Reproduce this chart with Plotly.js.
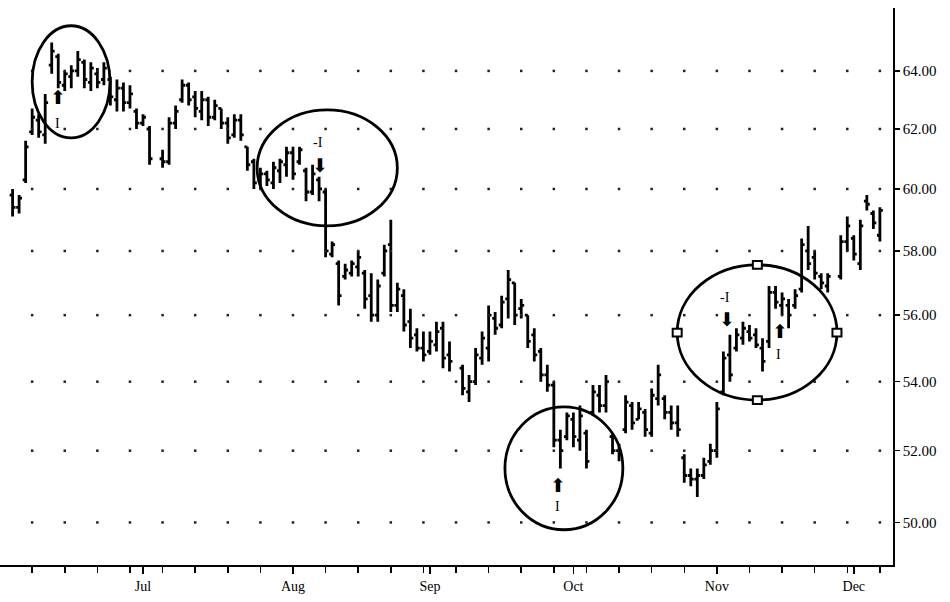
<!DOCTYPE html>
<html><head><meta charset="utf-8">
<script src="https://cdn.plot.ly/plotly-3.0.1.min.js"></script>
<style>html,body{margin:0;padding:0;background:#fff}#chart{width:950px;height:602px}</style>
</head><body><div id="chart"></div>
<script>
// ---- data ----
const firstDay = '1998-06-03';
const lastDay = '1998-12-07';
const holidays = ['1998-07-03', '1998-09-07', '1998-11-26'];

const open = [
 59.8,59.4,60.3,61.9,62.3,61.8,64.2,64.5,63.5,63.8,64.0,64.3,63.6,63.9,63.7,63.7,63.0,63.4,62.9,62.6,
 62.2,62.0,61.0,60.9,62.2,63.0,63.5,63.1,62.6,63.0,62.4,62.7,62.2,61.8,62.3,61.4,60.9,60.3,60.5,60.2,60.6,60.8,
 61.2,60.9,60.6,59.9,60.3,59.9,57.9,57.6,57.2,57.3,57.5,57.3,56.6,56.0,57.3,58.2,56.3,56.6,55.8,55.4,55.0,
 54.9,55.1,55.6,54.8,54.4,53.7,54.0,54.7,55.0,55.9,55.7,56.5,57.0,56.2,56.0,55.4,54.9,54.2,53.9,52.3,52.4,
 52.9,52.3,52.5,53.1,53.6,53.3,52.4,52.0,52.6,53.3,52.9,53.1,52.5,53.5,53.5,53.1,52.8,51.8,51.3,51.2,51.3,51.7,
 52.0,53.7,54.8,55.0,55.3,55.5,55.4,55.0,55.2,56.7,56.3,56.3,56.3,56.8,58.0,57.8,57.2,56.9,57.2,58.3,
 58.4,57.6,59.6,59.2,58.5
];
const high = [
 60.0,59.8,61.6,62.7,62.5,63.2,65.0,64.6,64.0,64.2,64.7,64.4,64.3,64.1,64.3,63.8,63.7,63.6,63.5,62.7,
 62.5,62.1,61.3,62.4,62.8,63.7,63.6,63.3,63.3,63.1,63.0,62.7,62.4,62.5,62.5,61.4,61.0,60.7,60.6,60.9,61.0,61.4,
 61.4,61.4,60.7,60.8,60.4,60.0,58.3,57.7,57.6,57.7,58.0,57.4,57.3,57.1,58.2,59.0,57.0,56.8,56.2,55.6,55.5,
 55.5,55.8,55.8,55.2,54.5,54.2,55.0,55.5,56.3,56.1,56.6,57.4,57.0,56.5,56.0,55.6,55.0,54.5,54.0,52.6,53.1,
 53.1,53.3,52.6,53.9,53.9,54.2,52.5,52.2,53.6,53.4,53.4,53.2,53.8,54.5,53.6,53.3,53.3,51.9,51.5,51.5,51.8,52.2,
 53.4,54.9,55.4,55.6,55.8,55.7,55.6,55.3,56.9,56.9,56.7,56.5,56.8,58.4,58.8,58.0,57.3,57.3,58.5,59.1,
 58.5,59.0,59.8,59.3,59.4
];
const low = [
 59.1,59.2,60.2,61.8,61.7,61.5,63.9,63.4,63.3,63.4,63.8,63.4,63.3,63.4,63.5,62.8,62.6,62.6,62.7,62.0,
 62.1,60.8,60.7,60.8,62.0,62.9,62.8,62.4,62.3,62.1,62.3,62.0,61.5,61.7,61.6,60.6,60.0,60.0,60.1,60.0,60.2,60.4,
 60.3,60.8,59.6,59.8,59.6,57.8,57.8,56.3,57.1,57.2,57.2,56.2,55.8,55.8,57.2,56.1,56.1,55.5,55.0,54.9,54.6,
 54.8,54.9,54.4,54.3,53.6,53.4,53.9,54.5,54.6,55.4,55.6,55.9,55.7,55.9,55.0,54.6,54.0,53.7,52.1,51.5,52.3,
 52.1,52.0,51.5,53.0,53.1,53.1,51.9,51.7,52.5,52.6,52.9,52.4,52.4,53.3,52.9,52.6,52.4,51.1,51.0,50.7,51.2,51.6,
 51.8,53.6,54.0,54.9,55.1,55.2,55.0,54.3,55.0,56.2,56.0,55.6,56.2,56.7,57.4,57.1,56.8,56.7,57.1,58.0,
 57.7,57.4,59.3,58.7,58.3
];
const close = [
 59.4,59.7,61.4,62.4,61.9,62.9,64.7,63.6,63.9,64.0,64.4,63.7,64.1,63.6,64.1,63.1,63.4,62.9,63.2,62.2,
 62.4,61.0,60.9,62.2,62.6,63.5,63.0,62.7,63.0,62.4,62.8,62.2,61.7,62.3,61.8,60.8,60.2,60.5,60.3,60.7,60.9,61.2,
 60.5,61.3,59.9,60.5,60.0,58.0,58.2,56.6,57.4,57.6,57.8,56.5,56.0,56.9,58.0,56.3,56.8,55.7,55.3,55.0,54.8,
 55.2,55.5,54.7,54.6,53.8,54.0,54.8,55.3,56.0,55.6,56.4,57.1,56.0,56.3,55.2,54.8,54.2,53.9,52.3,52.0,53.0,
 52.4,53.0,51.7,53.7,53.3,54.0,52.0,51.9,53.4,52.8,53.2,52.6,53.6,54.2,53.1,52.8,52.6,51.3,51.2,51.3,51.6,52.0,
 53.2,54.7,54.2,55.4,55.6,55.3,55.1,54.6,56.7,56.4,56.5,56.0,56.6,58.2,57.6,57.3,57.0,57.2,58.3,58.8,
 57.9,58.8,59.5,58.9,59.3
];

const priceTicks = [50, 52, 54, 56, 58, 60, 62, 64];
const monthTicks = ['1998-07-01', '1998-08-03', '1998-09-01', '1998-10-01', '1998-11-02', '1998-12-01'];
const monthLabels = ['Jul', 'Aug', 'Sep', 'Oct', 'Nov', 'Dec'];
const xRange = ['1998-06-01 01:40', '1998-12-09 00:15'];
const yRange = [48.85, 66.24];

// circled pattern areas (date span, price span)
const circleX0 = ['1998-06-08 00:00', '1998-07-24 12:00', '1998-09-16 12:00', '1998-10-22 22:00'];
const circleX1 = ['1998-06-23 22:30', '1998-08-25 00:00', '1998-10-12 14:00', '1998-11-26 10:00'];
const circleLow = [61.7, 58.8, 49.8, 53.46];
const circleHigh = [65.6, 62.65, 53.26, 57.56];

// selection handles on the last circle
const handleX = ['1998-10-22 22:00', '1998-11-26 10:00', '1998-11-10 05:00', '1998-11-10 05:00'];
const handleY = [55.47, 55.47, 57.56, 53.46];

// signal markers
const arrowX = ['1998-06-12 00:00', '1998-08-07 03:00', '1998-09-28 15:00', '1998-11-03 14:00', '1998-11-13 17:00'];
const arrowY = [63.1, 60.8, 51.03, 55.88, 55.52];
const arrowDir = ['up', 'down', 'up', 'down', 'up'];
const labelX = ['1998-06-11 20:00', '1998-08-06 20:00', '1998-09-28 15:00', '1998-11-03 07:00', '1998-11-13 10:00'];
const labelY = [62.2, 61.53, 50.45, 56.55, 54.81];
const labelText = ['I', '-I', 'I', '-I', 'I'];

// ---- build ----
function tradingDays(a, b, skip) {
  const out = [];
  const d = new Date(a + 'T00:00:00Z');
  const end = new Date(b + 'T00:00:00Z');
  while (d <= end) {
    const wd = d.getUTCDay();
    const s = d.toISOString().slice(0, 10);
    if (wd !== 0 && wd !== 6 && !skip.includes(s)) out.push(s);
    d.setUTCDate(d.getUTCDate() + 1);
  }
  return out;
}
function mondays(a, b) {
  const out = [];
  const d = new Date(a + 'T00:00:00Z');
  const end = new Date(b + 'T00:00:00Z');
  while (d <= end) {
    if (d.getUTCDay() === 1) out.push(d.toISOString().slice(0, 10));
    d.setUTCDate(d.getUTCDate() + 1);
  }
  return out;
}
const dates = tradingDays(firstDay, lastDay, holidays);
const weekStarts = mondays('1998-06-02', lastDay);

const gx = [], gy = [];
priceTicks.forEach(p => weekStarts.forEach(m => { gx.push(m); gy.push(p); }));

const L = Math.log10;
const traces = [
  {
    type: 'scatter', mode: 'markers', x: gx, y: gy, hoverinfo: 'skip',
    marker: { symbol: 'square', size: 2.5, color: '#222' }, showlegend: false
  },
  {
    type: 'ohlc', x: dates, open: open, high: high, low: low, close: close,
    increasing: { line: { color: '#000', width: 2.8 } },
    decreasing: { line: { color: '#000', width: 2.8 } },
    tickwidth: 0.45, showlegend: false, hoverinfo: 'skip'
  }
];

// shapes on a log axis take data values in this Plotly version
const shapes = [];
for (let i = 0; i < circleX0.length; i++) {
  shapes.push({
    type: 'circle', xref: 'x', yref: 'y',
    x0: circleX0[i], x1: circleX1[i], y0: circleLow[i], y1: circleHigh[i],
    line: { color: '#000', width: 2.8 }
  });
}
for (let i = 0; i < handleX.length; i++) {
  shapes.push({
    type: 'rect', xref: 'x', yref: 'y', xsizemode: 'pixel',
    xanchor: handleX[i], x0: -4.5, x1: 4.5,
    y0: handleY[i] / 1.0021, y1: handleY[i] * 1.0021,
    fillcolor: '#fff', line: { color: '#000', width: 2 }
  });
}

// annotations on a log axis take log10 values
const annotations = [];
for (let i = 0; i < arrowX.length; i++) {
  annotations.push({
    xref: 'x', yref: 'y', x: arrowX[i], y: L(arrowY[i]), showarrow: false,
    text: arrowDir[i] === 'up' ? '\u2B06' : '\u2B07',
    font: { family: 'DejaVu Sans', size: 19, color: '#000' }
  });
}
for (let i = 0; i < labelX.length; i++) {
  annotations.push({
    xref: 'x', yref: 'y', x: labelX[i], y: L(labelY[i]), showarrow: false,
    text: labelText[i], font: { family: 'Liberation Serif', size: 14, color: '#000' }
  });
}

const layout = {
  width: 950, height: 602,
  margin: { l: 0, r: 57, t: 8, b: 37 },
  paper_bgcolor: '#fff', plot_bgcolor: '#fff',
  showlegend: false,
  xaxis: {
    type: 'date', range: xRange, rangebreaks: [{ bounds: ['sat', 'mon'] }],
    rangeslider: { visible: false },
    tickmode: 'array', tickvals: monthTicks, ticktext: monthLabels,
    ticks: 'outside', ticklen: 7, tickwidth: 1.5, tickcolor: '#000',
    minor: { tickmode: 'array', tickvals: weekStarts, ticks: 'outside', ticklen: 6, tickwidth: 1.5, tickcolor: '#000', showgrid: false },
    showgrid: false, zeroline: false, showline: true, linecolor: '#000', linewidth: 1.8,
    tickfont: { family: 'Liberation Serif', size: 14, color: '#000' },
    automargin: false, fixedrange: true
  },
  yaxis: {
    type: 'log', range: [L(yRange[0]), L(yRange[1])], side: 'right',
    tickmode: 'array', tickvals: priceTicks, ticktext: priceTicks.map(v => v.toFixed(2)),
    ticks: 'outside', ticklen: 5, tickwidth: 1.5, tickcolor: '#000',
    showgrid: false, zeroline: false, showline: true, linecolor: '#000', linewidth: 1.8,
    tickfont: { family: 'Liberation Serif', size: 15, color: '#000' },
    automargin: false, fixedrange: true
  },
  shapes: shapes,
  annotations: annotations
};

Plotly.newPlot('chart', traces, layout, { displayModeBar: false, staticPlot: true });
</script>
</body></html>
